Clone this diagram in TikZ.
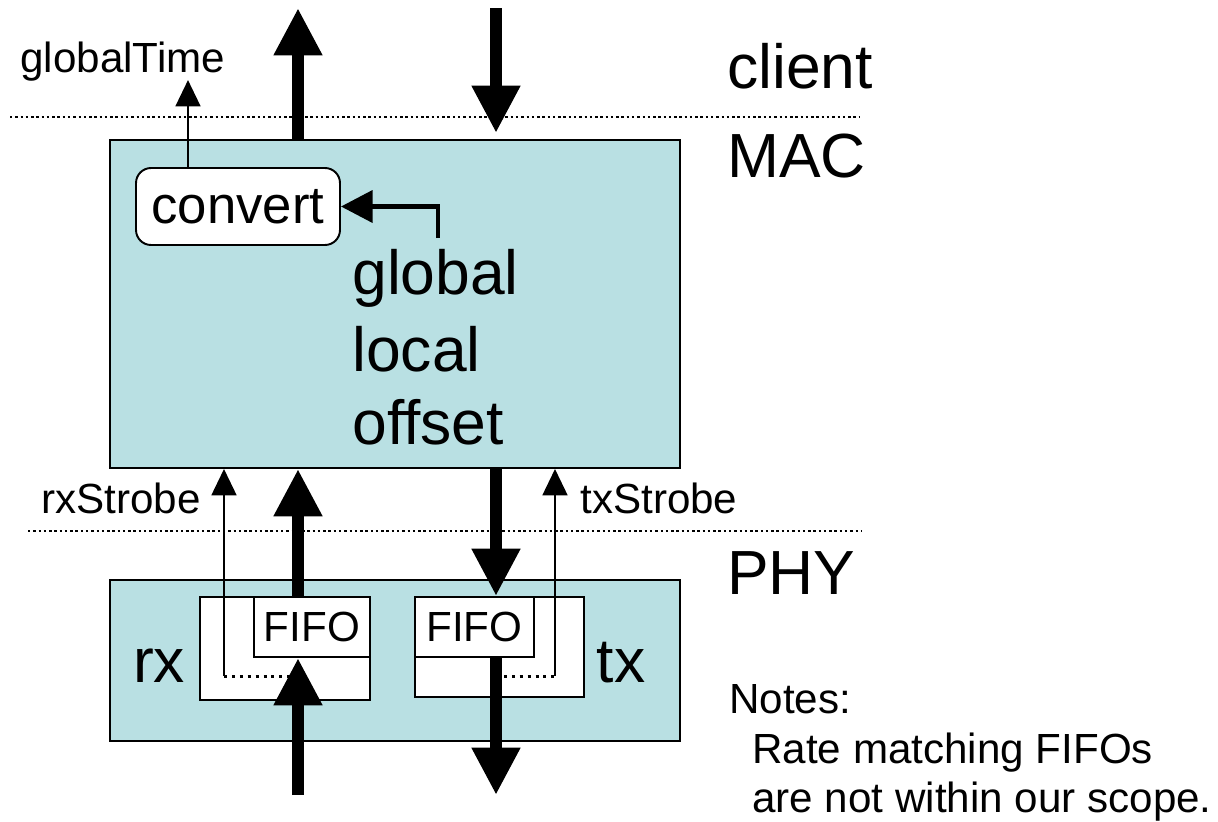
\documentclass[tikz,border=0pt]{standalone}
\usepackage{fontspec}
\setmainfont{Liberation Sans}
\usetikzlibrary{arrows.meta,positioning}

\definecolor{layerfill}{RGB}{185,224,227}
\tikzset{
  block/.style={draw, line width=1.1pt, fill=layerfill, inner sep=0pt},
  fifo/.style={draw, line width=1.1pt, fill=white, inner sep=0pt},
  bigarrow/.style={line width=7pt, -{Triangle[width=26pt,length=27pt]}},
  midarrow/.style={line width=2.8pt, -{Triangle[width=18pt,length=18pt]}},
  thinarrow/.style={line width=1.7pt, -{Triangle[width=14pt,length=15pt]}},
  layerline/.style={dash pattern=on 1.4pt off 1.6pt, line width=1.1pt},
  strobeline/.style={dash pattern=on 1.7pt off 2.8pt, line width=1.7pt},
  big/.style={font=\fontsize{35.5}{42}\selectfont, inner sep=0pt},
  small/.style={font=\fontsize{24}{28}\selectfont, inner sep=0pt},
}

\begin{document}
\begin{tikzpicture}[x=0.02cm, y=-0.02cm]
\useasboundingbox (0,0) rectangle (1218,822);

% layers
\node [block, minimum width=11.4cm, minimum height=6.56cm] (mac) at (395,304) {};
\node [block, minimum width=11.4cm, minimum height=3.22cm] (phy) at (395,660.5) {};

% PHY internals
\node [fifo, minimum width=3.4cm, minimum height=2.06cm] (rxbox) at (285,648.5) {};
\node [fifo, small, minimum width=2.32cm, minimum height=1.2cm] (rxfifo) at (312,627) {FIFO};
\node [fifo, minimum width=3.38cm, minimum height=2cm] (txbox) at (499.5,647) {};
\node [fifo, small, minimum width=2.38cm, minimum height=1.2cm] (txfifo) at (474.5,627) {FIFO};

% MAC internals
\node [fifo, rounded corners=0.3cm, minimum width=4.08cm, minimum height=1.54cm,
       font=\fontsize{30}{36}\selectfont] (convert) at (238,206.5) {convert};
\node [big, anchor=base west] (global) at (352,294) {global};
\node [big, anchor=base west] (local) at (352,371) {local};
\node [big, anchor=base west] (offset) at (352,444) {offset};

% layer names
\node [big, anchor=base west] (client) at (727,88) {client};
\node [big, anchor=base west] (macname) at (727,177) {MAC};
\node [big, anchor=base west] (phyname) at (727,594) {PHY};
\node [big, anchor=base] (rx) at (159,682) {rx};
\node [big, anchor=base] (tx) at (621,682) {tx};

% signal names
\node [small, anchor=base west] (gtime) at (20,72) {globalTime};
\node [small, anchor=base west] (rxstrobe) at (41,513) {rxStrobe};
\node [small, anchor=base west] (txstrobe) at (580,513) {txStrobe};

% notes
\node [small, anchor=base west] (notes) at (729,713) {Notes:};
\node [small, anchor=base west] (note1) at (752,763) {Rate matching FIFOs};
\node [small, anchor=base west] (note2) at (752,812) {are not within our scope.};

% layer boundaries
\coordinate (b1l) at (10,117);  \coordinate (b1r) at (860,117);
\coordinate (b2l) at (28,531);  \coordinate (b2r) at (862,531);
\draw [layerline] (b1l) -- (b1r);
\draw [layerline] (b2l) -- (b2r);

% free ends
\coordinate (gt) at (188,80);
\coordinate (macout) at (298,8);
\coordinate (macin) at (496,8);
\coordinate (gl) at (438,238);
\coordinate (rxdata) at (298,795);
\coordinate (txdata) at (496,795);
\coordinate (rxs) at (224,676);
\coordinate (txs) at (555,676);

% strobes
\draw [strobeline] (rxs) -- (rxs -| rxdata);
\draw [strobeline] (txs -| txdata) -- (txs);
\draw [thinarrow] (rxs) -- (mac.south -| rxs);
\draw [thinarrow] (txs) -- (mac.south -| txs);

% data paths
\draw [thinarrow] (convert.north -| gt) -- (gt);
\draw [midarrow] (gl) |- (convert.east);
\draw [bigarrow] (mac.north -| macout) -- (macout);
\draw [bigarrow] (macin) -- ++(0,125);
\draw [bigarrow] (rxfifo.north -| rxdata) -- (mac.south -| rxdata);
\draw [bigarrow] (rxdata) -- (rxfifo.south -| rxdata);
\draw [bigarrow] (mac.south -| txdata) -- (txfifo.north -| txdata);
\draw [bigarrow] (txfifo.south -| txdata) -- (txdata);
\end{tikzpicture}
\end{document}
